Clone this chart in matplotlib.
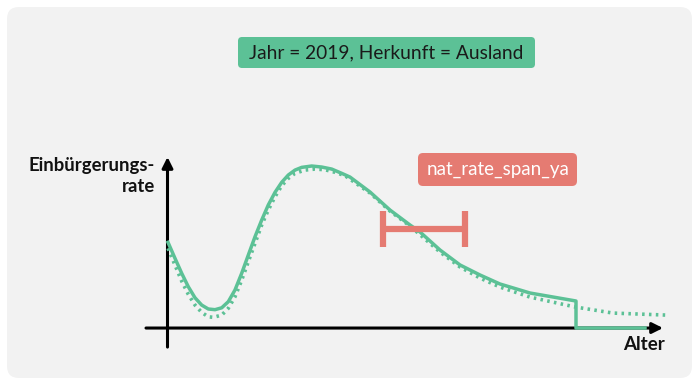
import matplotlib.pyplot as plt
from matplotlib.patches import FancyBboxPatch

plt.rcParams['font.family'] = ['Lato', 'DejaVu Sans']

# schematic naturalisation rate by age (arbitrary units)
age_solid = [0, 1.4, 2.74, 4.06, 5.4, 6.74, 8.06, 9.4, 10.74, 12.06, 13.4, 14.74,
             16.06, 17.4, 18.74, 20.06, 21.4, 22.74, 24.06, 25.4, 26.74, 28.74,
             30.74, 32.74, 34.74, 36.4, 40.4, 44.4, 48.4, 50.4, 54.4, 58.4, 62.4,
             66.4, 72.4, 81.6, 81.6, 95.4]
rate_solid = [0.504, 0.410, 0.322, 0.243, 0.178, 0.135, 0.112, 0.108, 0.119, 0.155,
              0.224, 0.322, 0.429, 0.537, 0.635, 0.724, 0.798, 0.857, 0.900, 0.929,
              0.945, 0.953, 0.947, 0.935, 0.910, 0.888, 0.800, 0.694, 0.606, 0.565,
              0.459, 0.371, 0.312, 0.259, 0.206, 0.159, 0.0, 0.0]

age_dotted = [0, 1.4, 2.74, 4.06, 5.4, 6.74, 8.06, 9.06, 10.74, 12.06, 13.4, 14.74,
              16.06, 17.4, 18.74, 20.06, 21.4, 22.74, 24.06, 25.4, 27.4, 29.4, 31.4,
              33.4, 35.4, 40.4, 44.4, 48.4, 54.4, 58.4, 62.4, 66.4, 72.4, 81.4,
              89.0, 99.8]
rate_dotted = [0.469, 0.370, 0.276, 0.198, 0.135, 0.092, 0.066, 0.063, 0.076, 0.116,
               0.184, 0.282, 0.390, 0.498, 0.606, 0.694, 0.772, 0.837, 0.880, 0.910,
               0.929, 0.935, 0.931, 0.916, 0.896, 0.794, 0.688, 0.600, 0.447, 0.359,
               0.294, 0.241, 0.182, 0.124, 0.088, 0.076]

# age span marker
span_start = 42.9
span_end = 59.4
span_level = 0.58

title_text = "Jahr = 2019, Herkunft = Ausland"
span_label = "nat_rate_span_ya"
green = '#5cc196'
red = '#e57b72'

fig = plt.figure(figsize=(6.97, 3.81), dpi=100)
fig.patch.set_facecolor('white')

# background layer in pixel units
bg = fig.add_axes([0, 0, 1, 1])
bg.set_xlim(0, 697)
bg.set_ylim(381, 0)
bg.axis('off')
bg.add_patch(FancyBboxPatch((7, 7), 685, 371, boxstyle='round,pad=0,rounding_size=12',
                            fc='#f2f2f2', ec='none'))
bg.add_patch(FancyBboxPatch((238, 37), 297, 31, boxstyle='round,pad=0,rounding_size=4',
                            fc=green, ec='none'))
bg.text(386, 52.5, title_text, ha='center', va='center', fontsize=13.8, color='#1a1a1a')
bg.add_patch(FancyBboxPatch((418, 153), 159, 33, boxstyle='round,pad=0,rounding_size=5',
                            fc=red, ec='none'))
bg.text(498, 169.5, span_label, ha='center', va='center', fontsize=13.5, color='white')
bg.text(155, 165, "Einbürgerungs-", ha='right', va='center', fontsize=13.3,
        fontweight='bold', color='#111111')
bg.text(155, 187, "rate", ha='right', va='center', fontsize=13.3,
        fontweight='bold', color='#111111')
bg.text(665, 344, "Alter", ha='right', va='center', fontsize=13.5,
        fontweight='bold', color='#111111')

# chart layer
ax = fig.add_axes([140 / 697, 21 / 381, 540 / 697, 220 / 381])
ax.set_xlim(-5.6, 102.4)
ax.set_ylim(-0.188, 1.106)
ax.axis('off')

ax.plot(age_dotted, rate_dotted, color=green, lw=2.6, dashes=(0.7, 1.2),
        solid_capstyle='butt', zorder=2)
ax.plot(age_solid, rate_solid, color=green, lw=2.5, solid_joinstyle='round', zorder=3)

ax.errorbar([(span_start + span_end) / 2], [span_level], xerr=[(span_end - span_start) / 2],
            fmt='none', ecolor=red, elinewidth=4.5, capsize=13, capthick=4.5, zorder=4)

ax.annotate('', xy=(99, 0), xytext=(-4.4, 0),
            arrowprops=dict(arrowstyle='-|>', lw=2.2, color='black', mutation_scale=16,
                            shrinkA=0, shrinkB=0), zorder=1)
ax.annotate('', xy=(-0.1, 1.006), xytext=(-0.1, -0.112),
            arrowprops=dict(arrowstyle='-|>', lw=2.2, color='black', mutation_scale=16,
                            shrinkA=0, shrinkB=0), zorder=1)

fig.savefig('out.png', dpi=100)
